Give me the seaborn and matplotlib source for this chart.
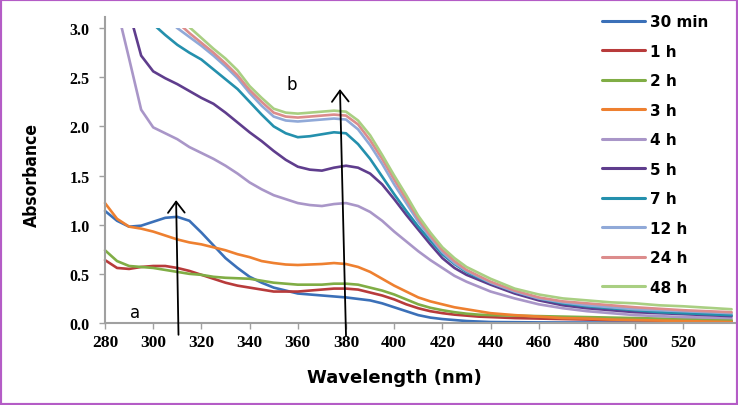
import numpy as np
import pandas as pd
import matplotlib
matplotlib.use("Agg")
import matplotlib.pyplot as plt
from matplotlib.lines import Line2D
from matplotlib.patches import Rectangle
import seaborn as sns

# ---- data ----
wavelength = list(range(280, 445, 5)) + list(range(450, 545, 10))
labels = ["30 min", "1 h", "2 h", "3 h", "4 h", "5 h", "7 h", "12 h", "24 h", "48 h"]
colors = ["#3b70b8", "#b83b3b", "#80ad45", "#ee8030", "#a996c8",
          "#5f3d8d", "#2490ad", "#90a9d8", "#dc8c8c", "#a9cf82"]
N = None
a_30min = [1.14, 1.04, 0.98, 0.99, 1.03, 1.07, 1.08, 1.04, 0.92, 0.79, 0.66, 0.56, 0.47, 0.41, 0.36, 0.33,
           0.30, 0.29, 0.28, 0.27, 0.26, 0.245, 0.23, 0.20, 0.16, 0.12, 0.08, 0.055, 0.04, 0.03, 0.02, 0.015, 0.01,
           0.008, 0.006, 0.005, 0.005, 0.005, 0.005, 0.005, 0.005, 0.005, 0.005]
a_1h = [0.64, 0.56, 0.55, 0.57, 0.58, 0.58, 0.56, 0.53, 0.49, 0.45, 0.41, 0.38, 0.36, 0.34, 0.32, 0.32,
        0.32, 0.33, 0.34, 0.35, 0.35, 0.34, 0.31, 0.28, 0.24, 0.19, 0.15, 0.12, 0.10, 0.085, 0.075, 0.065, 0.06,
        0.05, 0.045, 0.04, 0.035, 0.03, 0.03, 0.025, 0.025, 0.02, 0.02]
a_2h = [0.74, 0.63, 0.58, 0.57, 0.56, 0.54, 0.52, 0.50, 0.49, 0.47, 0.46, 0.455, 0.45, 0.43, 0.41, 0.40,
        0.39, 0.39, 0.39, 0.40, 0.40, 0.39, 0.36, 0.33, 0.29, 0.24, 0.19, 0.155, 0.13, 0.11, 0.095, 0.085, 0.08,
        0.075, 0.07, 0.065, 0.06, 0.055, 0.05, 0.045, 0.04, 0.035, 0.03]
a_3h = [1.22, 1.06, 0.98, 0.96, 0.93, 0.89, 0.85, 0.82, 0.80, 0.77, 0.74, 0.70, 0.67, 0.63, 0.61, 0.595,
        0.59, 0.595, 0.60, 0.61, 0.60, 0.57, 0.52, 0.45, 0.38, 0.32, 0.26, 0.22, 0.19, 0.16, 0.14, 0.12, 0.10,
        0.08, 0.065, 0.05, 0.045, 0.035, 0.03, 0.025, 0.02, 0.015, 0.01]
a_4h = [N, 3.2, 2.69, 2.17, 1.99, 1.93, 1.87, 1.79, 1.73, 1.67, 1.60, 1.52, 1.43, 1.36, 1.30, 1.26,
        1.22, 1.20, 1.19, 1.21, 1.22, 1.19, 1.13, 1.04, 0.93, 0.83, 0.73, 0.64, 0.56, 0.48, 0.42, 0.37, 0.32,
        0.25, 0.19, 0.15, 0.12, 0.10, 0.08, 0.07, 0.06, 0.055, 0.05]
a_5h = [N, N, 3.17, 2.72, 2.56, 2.49, 2.43, 2.36, 2.29, 2.23, 2.14, 2.04, 1.94, 1.85, 1.75, 1.66,
        1.59, 1.56, 1.55, 1.58, 1.60, 1.58, 1.52, 1.41, 1.26, 1.10, 0.95, 0.80, 0.66, 0.56, 0.49, 0.44, 0.39,
        0.30, 0.23, 0.18, 0.15, 0.13, 0.11, 0.10, 0.09, 0.08, 0.07]
a_7h = [N, N, N, N, 3.04, 2.93, 2.83, 2.75, 2.68, 2.58, 2.48, 2.38, 2.25, 2.12, 2.00, 1.93,
        1.89, 1.90, 1.92, 1.94, 1.93, 1.82, 1.67, 1.49, 1.31, 1.14, 0.98, 0.84, 0.70, 0.60, 0.52, 0.46, 0.41,
        0.32, 0.25, 0.20, 0.17, 0.15, 0.13, 0.11, 0.10, 0.09, 0.08]
a_12h = [N, N, N, N, 3.22, 3.11, 3.00, 2.91, 2.82, 2.72, 2.61, 2.49, 2.34, 2.21, 2.10, 2.06,
         2.05, 2.06, 2.07, 2.08, 2.07, 1.97, 1.81, 1.62, 1.41, 1.22, 1.03, 0.87, 0.72, 0.61, 0.53, 0.47, 0.41,
         0.32, 0.25, 0.21, 0.18, 0.16, 0.14, 0.13, 0.12, 0.11, 0.10]
a_24h = [N, N, N, N, N, 3.17, 3.06, 2.95, 2.85, 2.75, 2.64, 2.52, 2.37, 2.25, 2.14, 2.10,
         2.09, 2.10, 2.11, 2.12, 2.11, 2.02, 1.86, 1.67, 1.46, 1.26, 1.06, 0.89, 0.74, 0.63, 0.54, 0.48, 0.42,
         0.33, 0.26, 0.22, 0.20, 0.18, 0.16, 0.145, 0.13, 0.12, 0.11]
a_48h = [N, N, N, N, N, N, 3.12, 3.01, 2.90, 2.79, 2.69, 2.57, 2.41, 2.29, 2.18, 2.14,
         2.13, 2.14, 2.15, 2.16, 2.15, 2.06, 1.91, 1.71, 1.50, 1.30, 1.09, 0.92, 0.77, 0.66, 0.57, 0.51, 0.45,
         0.35, 0.29, 0.25, 0.23, 0.21, 0.20, 0.18, 0.17, 0.155, 0.14]
series = [a_30min, a_1h, a_2h, a_3h, a_4h, a_5h, a_7h, a_12h, a_24h, a_48h]

x_ticks = list(range(280, 540, 20))
y_ticks = [0.0, 0.5, 1.0, 1.5, 2.0, 2.5, 3.0]

rows = []
for lab, vals in zip(labels, series):
    for w, v in zip(wavelength, vals):
        if v is not None:
            rows.append((w, v, lab))
df = pd.DataFrame(rows, columns=["Wavelength", "Absorbance", "Time"])

# ---- figure ----
sns.set_theme(style="white")
plt.rcParams["text.color"] = "black"
W, H = 738, 406
fig = plt.figure(figsize=(W / 100, H / 100), dpi=100)
ax = fig.add_axes([105 / W, 1 - 324 / H, (735 - 105) / W, (324 - 18) / H])

palette = dict(zip(labels, colors))
sns.lineplot(data=df, x="Wavelength", y="Absorbance", hue="Time", hue_order=labels,
             palette=palette, estimator=None, sort=True, linewidth=1.9, legend=False, ax=ax)

clip = Rectangle((270, -1.0), 300, 4.0, transform=ax.transData)
for ln in ax.lines:
    ln.set_clip_path(clip)
    ln.set_solid_capstyle("round")

ax.set_xlim(280, 280 + (735 - 105) / 2.41)
ax.set_ylim(0, 306 / 98.3)
ax.set_xticks(x_ticks)
ax.set_yticks(y_ticks)
ax.set_xticklabels([str(t) for t in x_ticks])
ax.set_yticklabels([f"{t:.1f}" for t in y_ticks])
for lab in ax.get_xticklabels():
    lab.set_fontfamily("Liberation Serif")
    lab.set_fontweight("bold")
    lab.set_fontsize(12.5)
for lab in ax.get_yticklabels():
    lab.set_fontfamily("Liberation Serif")
    lab.set_fontweight("bold")
    lab.set_fontsize(11.5)
ax.tick_params(axis="both", which="both", direction="out", length=4, width=1, color="#a0a0a0",
               labelcolor="black", bottom=True, left=True)
ax.tick_params(axis="x", pad=4)
ax.tick_params(axis="y", pad=7)
for s in ["top", "right"]:
    ax.spines[s].set_visible(False)
for s in ["left", "bottom"]:
    ax.spines[s].set_color("#a0a0a0")
    ax.spines[s].set_linewidth(1.5)
ax.set_xlabel("")
ax.set_ylabel("")

fig.text(32 / W, 1 - 175 / H, "Absorbance", rotation=90, ha="center", va="center", color="black",
         fontsize=12.5, fontweight="bold", fontstretch="condensed",
         family=["Liberation Sans Narrow", "DejaVu Sans"])
fig.text(394 / W, 1 - 378 / H, "Wavelength (nm)", ha="center", va="center", color="black",
         fontsize=13, fontweight="bold", family="DejaVu Sans")

# arrows and labels
ap = dict(arrowstyle="->,head_length=0.4,head_width=0.3", color="black", lw=1.3,
          mutation_scale=20, shrinkA=0, shrinkB=0)
ax.annotate("", xy=(309.5, 1.25), xytext=(310.5, -0.12), arrowprops=ap, annotation_clip=False)
ax.annotate("", xy=(377.5, 2.38), xytext=(380.0, -0.13), arrowprops=ap, annotation_clip=False)
ax.text(292.4, 0.11, "a", fontsize=12, ha="center", va="center", family="DejaVu Sans", color="black")
ax.text(357.6, 2.43, "b", fontsize=12, ha="center", va="center", family="DejaVu Sans", color="black")

# legend
handles = [Line2D([0], [0], color=c, lw=2.2) for c in colors]
leg = fig.legend(handles, labels, loc="upper left", bbox_to_anchor=(602 / W, 1 - 15 / H),
                 frameon=False, handlelength=2.8, handletextpad=0.35, labelspacing=0.95,
                 borderpad=0, borderaxespad=0,
                 prop={"family": "DejaVu Sans", "weight": "bold", "size": 11})
for t in leg.get_texts():
    t.set_color("black")

fig.patches.append(Rectangle((0, 0), 1, 1, transform=fig.transFigure, fill=False,
                             edgecolor="#b45cc6", linewidth=3.0))

fig.savefig("out.png", dpi=100)
